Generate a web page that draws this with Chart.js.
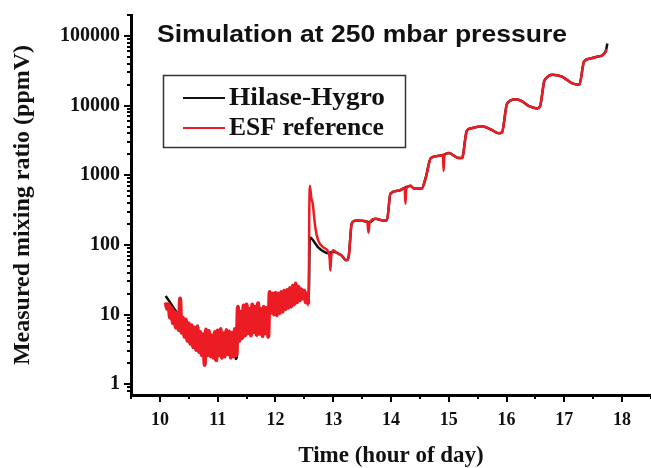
<!DOCTYPE html>
<html>
<head>
<meta charset="utf-8">
<script src="https://cdn.jsdelivr.net/npm/chart.js@4.4.0/dist/chart.umd.min.js"></script>
<style>
  html, body { margin: 0; padding: 0; background: #fff; }
  #wrap { width: 651px; height: 468px; position: relative; }
</style>
</head>
<body>
<div id="wrap"><canvas id="chart"></canvas></div>
<script>
// axis range and labelled ticks
const xMin = 9.5, xMax = 18.5;
const yMin = 0.72, yMax = 200000;
const xTickHours = [10, 11, 12, 13, 14, 15, 16, 17, 18];
const yTickValues = [1, 10, 100, 1000, 10000, 100000];

const chartTitle = "Simulation at 250 mbar pressure";
const seriesNames = ["Hilase-Hygro", "ESF reference"];

// Hilase-Hygro (black)
const hygroTime = [
  10.10, 10.20, 10.30, 10.40, 10.50, 10.60, 10.70, 10.72, 10.74, 10.85,
  10.96, 10.97, 10.99, 11.10, 11.20, 11.29, 11.31, 11.33, 11.35, 11.60,
  11.87, 11.90, 12.20, 12.35, 12.50, 12.575, 12.595, 12.69, 12.74, 12.86,
  12.92, 13.00, 13.14, 13.23, 13.27, 13.32, 13.40, 13.50, 13.59, 13.63,
  13.73, 13.87, 13.93, 13.99, 14.13, 14.235, 14.34, 14.39, 14.53, 14.60,
  14.69, 14.83, 14.90, 15.00, 15.17, 15.23, 15.31, 15.38, 15.57, 15.73,
  15.87, 15.92, 16.01, 16.16, 16.27, 16.39, 16.53, 16.58, 16.65, 16.68,
  16.79, 16.96, 17.14, 17.26, 17.34, 17.43, 17.55, 17.66, 17.72, 17.745
];
const hygroValue = [
  18.5, 14, 10.5, 8, 6, 5, 4.4, 3.0, 4.3, 4.0,
  4.2, 3.1, 4.0, 3.8, 3.9, 3.6, 2.3, 2.4, 7.5, 8,
  8, 14, 16, 20, 18, 17, 128, 105, 92, 78,
  76, 80, 71, 60, 70, 203, 224, 222, 215, 212,
  237, 224, 226, 545, 600, 660, 707, 650, 640, 918,
  1770, 1900, 1950, 2080, 1770, 1770, 4300, 4700, 5050, 4540,
  4000, 4100, 10700, 12300, 11500, 9800, 9100, 9800, 22100, 24500,
  27800, 26000, 20800, 19900, 42700, 47000, 50000, 53000, 62000, 78000
];

// ESF reference (red)
const esfTime = [
  10.100, 10.125, 10.150, 10.175, 10.200, 10.225, 10.250, 10.275, 10.300, 10.325,
  10.350, 10.375, 10.400, 10.425, 10.450, 10.475, 10.500, 10.525, 10.550, 10.575,
  10.600, 10.625, 10.650, 10.675, 10.700, 10.725, 10.750, 10.775, 10.800, 10.825,
  10.850, 10.875, 10.900, 10.925, 10.950, 10.975, 11.000, 11.025, 11.050, 11.075,
  11.100, 11.125, 11.150, 11.175, 11.200, 11.225, 11.250, 11.275, 11.300, 11.325,
  11.350, 11.375, 11.400, 11.425, 11.450, 11.475, 11.500, 11.525, 11.550, 11.575,
  11.600, 11.625, 11.650, 11.675, 11.700, 11.725, 11.750, 11.775, 11.800, 11.825,
  11.850, 11.875, 11.900, 11.925, 11.950, 11.975, 12.000, 12.025, 12.050, 12.075,
  12.100, 12.125, 12.150, 12.175, 12.200, 12.225, 12.250, 12.275, 12.300, 12.325,
  12.350, 12.375, 12.400, 12.425, 12.450, 12.475, 12.500, 12.525, 12.550, 12.575,
  12.585, 12.595, 12.62, 12.645, 12.69, 12.74, 12.83, 12.92, 12.94, 12.95,
  12.965, 13.00, 13.07, 13.14, 13.23, 13.27, 13.32, 13.40, 13.50, 13.59,
  13.61, 13.63, 13.73, 13.87, 13.93, 13.99, 14.13, 14.235, 14.25, 14.265,
  14.34, 14.39, 14.53, 14.60, 14.69, 14.83, 14.90, 14.91, 14.925, 15.00,
  15.17, 15.23, 15.31, 15.38, 15.57, 15.73, 15.87, 15.92, 16.01, 16.16,
  16.27, 16.39, 16.53, 16.58, 16.65, 16.68, 16.79, 16.96, 17.14, 17.26,
  17.34, 17.43, 17.55, 17.66, 17.72, 17.73
];
const esfValue = [
  15, 12, 14, 9, 12.5, 7.5, 11, 6.5, 10.5, 6,
  17, 5.5, 9, 4.8, 8.5, 4.2, 7.5, 3.8, 7, 3.4,
  6.5, 3.1, 6.8, 2.9, 5.6, 2.6, 5.2, 1.9, 6.1, 2.6,
  5.8, 2.5, 5.0, 2.4, 5.6, 2.2, 5.9, 2.6, 6.2, 2.4,
  5.4, 2.5, 6.0, 2.7, 5.7, 2.4, 5.5, 2.5, 6.2, 2.6,
  13, 4.2, 11, 4.6, 13.5, 5.0, 14, 5.4, 12, 5.0,
  14, 5.6, 13, 5.1, 14.5, 5.3, 12, 4.9, 13, 5.4,
  12.5, 4.8, 21, 10.6, 20, 10, 20.5, 9.8, 20, 10.5,
  21, 11, 22, 12, 22.5, 12.5, 24, 13, 26, 14,
  28, 15, 25, 16, 23, 17, 22, 15, 20, 14,
  250, 708, 480, 390, 178, 116, 92, 78, 62, 43,
  68, 84, 76, 71, 60, 70, 203, 224, 222, 215,
  150, 210, 237, 224, 226, 545, 600, 660, 390, 650,
  707, 650, 640, 918, 1770, 1900, 1950, 1150, 1950, 2080,
  1770, 1770, 4300, 4700, 5050, 4540, 4000, 4100, 10700, 12300,
  11500, 9800, 9100, 9800, 22100, 24500, 27800, 26000, 20800, 19900,
  42700, 47000, 50000, 53000, 60000, 65000
];

const serif = "'Liberation Serif', 'Times New Roman', serif";
const sans = "'Liberation Sans', Arial, sans-serif";

// minor/major tick marks pointing out of the plot
const axisTicks = {
  id: 'axisTicks',
  afterDraw(chart) {
    const { ctx, chartArea, scales: { x, y } } = chart;
    ctx.save();
    ctx.strokeStyle = '#000';
    ctx.lineWidth = 2;
    ctx.beginPath();
    for (let h = xMin; h <= xMax + 1e-9; h += 0.5) {
      const px = Math.round(x.getPixelForValue(h));
      const len = Number.isInteger(h) ? 7 : 4;
      ctx.moveTo(px, chartArea.bottom);
      ctx.lineTo(px, chartArea.bottom + len);
    }
    for (let e = -1; e <= 5; e++) {
      for (let m = 1; m <= 9; m++) {
        const v = m * Math.pow(10, e);
        if (v < yMin || v > yMax) continue;
        const py = Math.round(y.getPixelForValue(v));
        const len = m === 1 ? 7 : 4;
        ctx.moveTo(chartArea.left, py);
        ctx.lineTo(chartArea.left - len, py);
      }
    }
    ctx.stroke();
    ctx.restore();
  }
};

// title and boxed legend inside the plot
const insideText = {
  id: 'insideText',
  afterDraw(chart) {
    const ctx = chart.ctx;
    ctx.save();
    ctx.fillStyle = '#111';
    ctx.font = "bold 24px " + sans;
    ctx.textBaseline = 'middle';
    ctx.textAlign = 'left';
    // the original title is set a little wide; stretch it to its width
    const w = ctx.measureText(chartTitle).width;
    ctx.save();
    ctx.translate(157, 35);
    ctx.scale(410 / w, 1);
    ctx.fillText(chartTitle, 0, 0);
    ctx.restore();

    ctx.strokeStyle = '#333';
    ctx.lineWidth = 1.5;
    ctx.strokeRect(163.5, 75.5, 242, 72);

    ctx.font = "bold 25px " + serif;
    const rows = [1, 0]; // black first, then red
    rows.forEach((di, i) => {
      const ds = chart.data.datasets[di];
      const yy = 98 + i * 30;
      ctx.strokeStyle = ds.borderColor;
      ctx.lineWidth = 2;
      ctx.beginPath();
      ctx.moveTo(183, yy);
      ctx.lineTo(225, yy);
      ctx.stroke();
      ctx.fillStyle = '#111';
      const tw = ctx.measureText(ds.label).width;
      const target = di === 1 ? 156 : 155;
      ctx.save();
      ctx.translate(229, yy + 1);
      ctx.scale(target / tw, 1);
      ctx.fillText(ds.label, 0, 0);
      ctx.restore();
    });
    ctx.restore();
  }
};

new Chart(document.getElementById('chart'), {
  type: 'line',
  data: {
    datasets: [
      {
        label: seriesNames[1],
        data: esfTime.map((t, i) => ({ x: t, y: esfValue[i] })),
        borderColor: '#ec1c24',
        borderWidth: 2.5,
        pointRadius: 0,
        cubicInterpolationMode: 'monotone',
        order: 1,
        segment: {
          // the noisy early part reads as a solid band
          borderWidth: (c) => (c.p0.parsed.x < 12.575 ? 4 : 2.5)
        }
      },
      {
        label: seriesNames[0],
        data: hygroTime.map((t, i) => ({ x: t, y: hygroValue[i] })),
        borderColor: '#111111',
        borderWidth: 2.5,
        pointRadius: 0,
        cubicInterpolationMode: 'monotone',
        order: 2
      }
    ]
  },
  options: {
    responsive: true,
    maintainAspectRatio: false,
    animation: false,
    layout: { padding: { top: 13, left: 0, right: 0, bottom: 0 } },
    plugins: {
      legend: { display: false },
      tooltip: { enabled: false }
    },
    scales: {
      x: {
        type: 'linear',
        min: xMin,
        max: xMax,
        afterBuildTicks: (scale) => { scale.ticks = xTickHours.map(v => ({ value: v })); },
        afterFit: (scale) => { scale.height = 73; },
        grid: { display: false, drawTicks: true, tickLength: 8 },
        border: { display: true, color: '#000', width: 3 },
        ticks: {
          padding: 7,
          maxRotation: 0,
          color: '#111',
          font: { family: serif, weight: 'bold', size: 18 },
          callback: (v) => String(v)
        },
        title: {
          display: true,
          text: 'Time (hour of day)',
          color: '#111',
          font: { family: serif, weight: 'bold', size: 23, lineHeight: 1 },
          padding: { top: 0, bottom: 0 }
        }
      },
      y: {
        type: 'logarithmic',
        min: yMin,
        max: yMax,
        afterBuildTicks: (scale) => { scale.ticks = yTickValues.map(v => ({ value: v })); },
        afterFit: (scale) => { scale.width = 131; },
        grid: { display: false, drawTicks: true, tickLength: 8 },
        border: { display: true, color: '#000', width: 3 },
        ticks: {
          padding: 3,
          color: '#111',
          font: { family: serif, weight: 'bold', size: 20 },
          callback: (v) => String(v)
        },
        title: {
          display: true,
          text: 'Measured mixing ratio (ppmV)',
          color: '#111',
          font: { family: serif, weight: 'bold', size: 24, lineHeight: 1 },
          padding: { top: 11, bottom: 0 }
        }
      }
    }
  },
  plugins: [axisTicks, insideText]
});
</script>
</body>
</html>
